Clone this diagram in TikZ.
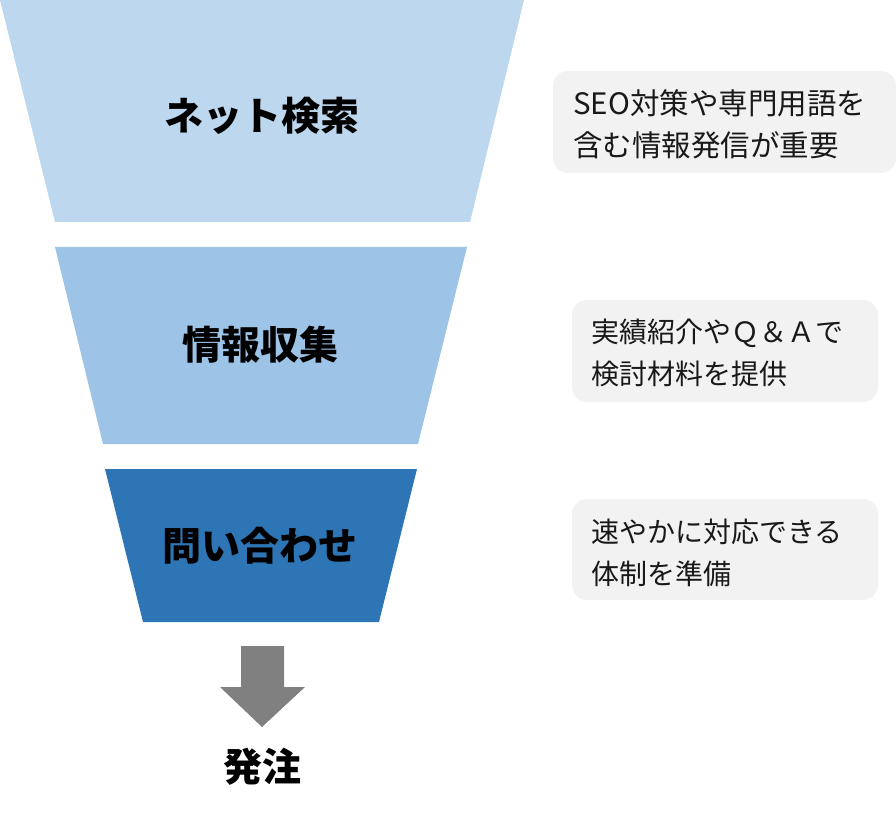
\documentclass[tikz,border=0pt]{standalone}
\usepackage{fontspec}
\setmainfont{Noto Sans CJK JP}
\definecolor{lv1}{HTML}{BDD7EE}
\definecolor{lv2}{HTML}{9DC3E6}
\definecolor{lv3}{HTML}{2E75B6}
\definecolor{boxbg}{HTML}{F2F2F2}
\definecolor{arrowgray}{HTML}{808080}
\begin{document}
\begin{tikzpicture}[x=1pt,y=-1pt,
  stagelabel/.style={font=\bfseries\fontsize{39}{44}\selectfont,text=black,inner sep=0pt},
  notebox/.style={fill=boxbg,rounded corners=15pt,draw=none},
  notetext/.style={font=\fontsize{28}{42}\selectfont,text=black!90,align=left,anchor=west,inner sep=0pt}]
\useasboundingbox (0,0) rectangle (896,818);
% funnel stages
\fill[lv1] (0,0) -- (524,0) -- (470,222) -- (55,222) -- cycle;
\fill[lv2] (55,247) -- (467,247) -- (418,444) -- (103,444) -- cycle;
\fill[lv3] (105,469) -- (417,469) -- (379,622) -- (143,622) -- cycle;
\node[stagelabel] (s1) at (262,116) {ネット検索};
\node[stagelabel] (s2) at (260,345) {情報収集};
\node[stagelabel] (s3) at (260,546) {問い合わせ};
% arrow
\fill[arrowgray] (241,646) -- (284,646) -- (284,687) -- (305,687) -- (262,727) -- (220,687) -- (241,687) -- cycle;
\node[stagelabel] (order) at (262,767) {発注};
% note boxes
\fill[notebox] (553,71) rectangle (896,173);
\fill[notebox] (572,300) rectangle (878,402);
\fill[notebox] (572,499) rectangle (878,600);
\node[notetext,font=\fontsize{29.5}{42}\selectfont] (n1) at (573,124) {SEO対策や専門用語を\\含む情報発信が重要};
\node[notetext] (n2) at (591,353) {実績紹介やＱ＆Ａで\\検討材料を提供};
\node[notetext] (n3) at (591,553) {速やかに対応できる\\体制を準備};
\end{tikzpicture}
\end{document}
